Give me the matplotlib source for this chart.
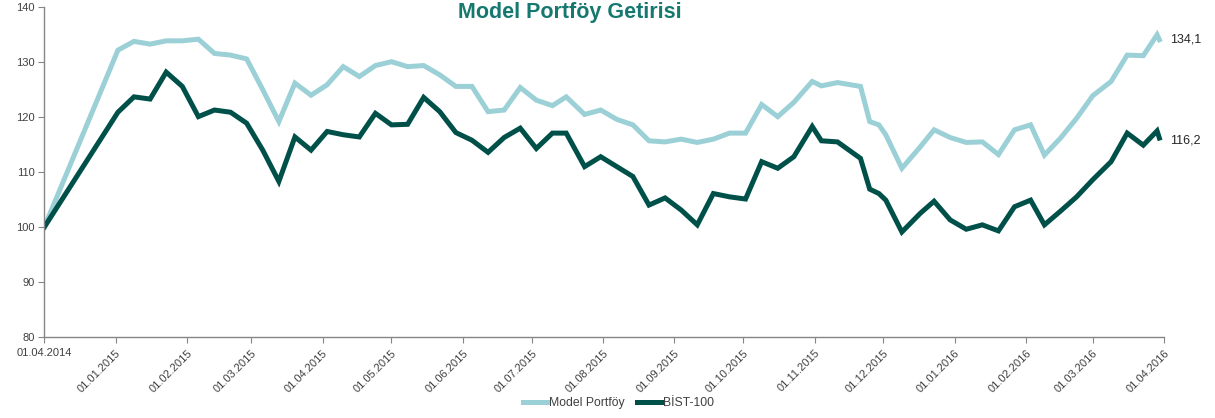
import matplotlib
matplotlib.use("Agg")
import matplotlib.pyplot as plt
from datetime import datetime

plt.rcParams['font.family'] = ['Liberation Sans', 'DejaVu Sans']

# observation dates (first point is the 01.04.2014 base, drawn at the axis start)
dates = [
    "2014-12-01", "2015-01-02", "2015-01-09", "2015-01-16", "2015-01-23", "2015-01-30",
    "2015-02-06", "2015-02-13", "2015-02-20", "2015-02-27",
    "2015-03-06", "2015-03-13", "2015-03-20", "2015-03-27",
    "2015-04-03", "2015-04-10", "2015-04-17", "2015-04-24",
    "2015-05-01", "2015-05-08", "2015-05-15", "2015-05-22", "2015-05-29",
    "2015-06-05", "2015-06-12", "2015-06-19", "2015-06-26",
    "2015-07-03", "2015-07-10", "2015-07-16", "2015-07-24", "2015-07-31",
    "2015-08-07", "2015-08-14", "2015-08-21", "2015-08-28",
    "2015-09-04", "2015-09-11", "2015-09-18", "2015-09-25",
    "2015-10-02", "2015-10-09", "2015-10-16", "2015-10-23", "2015-10-31",
    "2015-11-04", "2015-11-11", "2015-11-21", "2015-11-25", "2015-11-29",
    "2015-12-02", "2015-12-09", "2015-12-17", "2015-12-23", "2015-12-30",
    "2016-01-06", "2016-01-13", "2016-01-20", "2016-01-27",
    "2016-02-03", "2016-02-09", "2016-02-16", "2016-02-23",
    "2016-03-01", "2016-03-09", "2016-03-16", "2016-03-23", "2016-03-29", "2016-03-30",
]

model = [100, 132.2, 133.8, 133.3, 133.9, 133.9, 134.2,
         131.6, 131.3, 130.6, 125.0, 119.2, 126.2, 124.0, 125.9, 129.2, 127.4,
         129.4, 130.1, 129.2, 129.4, 127.7, 125.6, 125.6, 121.0, 121.3, 125.4,
         123.1, 122.1, 123.7, 120.5, 121.3, 119.6, 118.6, 115.7, 115.5, 116.0,
         115.4, 116.0, 117.1, 117.1, 122.3, 120.1, 122.7, 126.5, 125.7, 126.3,
         125.6, 119.2, 118.6, 116.8, 110.7, 114.6, 117.7, 116.3, 115.4, 115.5, 113.2,
         117.7, 118.6, 113.1, 116.2, 119.8, 123.9, 126.5, 131.3, 131.2, 135.0, 134.1]

bist = [100, 120.9, 123.7, 123.3, 128.2, 125.6, 120.1,
        121.3, 120.9, 118.9, 114.0, 108.3, 116.4, 114.0, 117.4, 116.8, 116.4,
        120.7, 118.6, 118.7, 123.6, 121.0, 117.2, 115.8, 113.6, 116.3, 118.0,
        114.3, 117.1, 117.1, 111.0, 112.8, 111.0, 109.2, 104.0, 105.3, 103.1,
        100.4, 106.1, 105.5, 105.1, 111.9, 110.7, 112.8, 118.3, 115.7, 115.5,
        112.5, 106.9, 106.1, 104.9, 99.1, 102.5, 104.7, 101.3, 99.6, 100.4, 99.3,
        103.7, 104.9, 100.4, 102.9, 105.5, 108.6, 111.9, 117.1, 114.9, 117.5, 116.2]

tick_dates = ["2014-12-01", "2015-01-01", "2015-02-01", "2015-03-01", "2015-04-01",
              "2015-05-01", "2015-06-01", "2015-07-01", "2015-08-01", "2015-09-01",
              "2015-10-01", "2015-11-01", "2015-12-01", "2016-01-01", "2016-02-01",
              "2016-03-01", "2016-04-01"]
tick_labels = ["01.04.2014", "01.01.2015", "01.02.2015", "01.03.2015", "01.04.2015",
               "01.05.2015", "01.06.2015", "01.07.2015", "01.08.2015", "01.09.2015",
               "01.10.2015", "01.11.2015", "01.12.2015", "01.01.2016", "01.02.2016",
               "01.03.2016", "01.04.2016"]

x = [datetime.strptime(d, "%Y-%m-%d") for d in dates]
xt = [datetime.strptime(d, "%Y-%m-%d") for d in tick_dates]

light = "#9BD0D6"
dark = "#00504A"
gray = "#868686"
txt = "#404040"

fig = plt.figure(figsize=(12.15, 4.18), dpi=100)
ax = fig.add_axes([0.0365, 0.194, 0.9215, 0.7885])

ax.plot(x, model, color=light, lw=3.6, solid_joinstyle='miter', label="Model Portföy")
ax.plot(x, bist, color=dark, lw=3.6, solid_joinstyle='miter', label="BİST-100")

ax.set_xlim(xt[0], xt[-1])
ax.set_ylim(80, 140)
ax.set_yticks(range(80, 141, 10))
ax.set_xticks(xt)
ax.set_xticklabels(tick_labels)

for lab in ax.get_xticklabels()[1:]:
    lab.set_rotation(45)
    lab.set_ha('right')
    lab.set_va('top')
    lab.set_rotation_mode('anchor')
first = ax.get_xticklabels()[0]
first.set_ha('center')

ax.tick_params(axis='x', labelsize=8, colors=txt, length=4, color=gray, pad=4)
ax.tick_params(axis='y', labelsize=8, colors=txt, length=4, color=gray, pad=3)
for s in ['top', 'right']:
    ax.spines[s].set_visible(False)
for s in ['left', 'bottom']:
    ax.spines[s].set_color(gray)
    ax.spines[s].set_linewidth(1)

# end value labels
ax.annotate(f"{model[-1]:.1f}".replace('.', ','), (x[-1], model[-1]),
            xytext=(8, 0), textcoords='offset points', va='center', ha='left',
            fontsize=9, color='#262626')
ax.annotate(f"{bist[-1]:.1f}".replace('.', ','), (x[-1], bist[-1]),
            xytext=(8, -1.5), textcoords='offset points', va='center', ha='left',
            fontsize=9, color='#262626')

fig.text(570 / 1215, 1 - 12.5 / 418, "Model Portföy Getirisi", ha='center', va='center',
         fontsize=15.5, fontweight='bold', color='#16796F')

fig.legend(loc='center', bbox_to_anchor=(0.509, 0.036), ncol=2, frameon=False,
           fontsize=8.8, handlelength=2.0, handletextpad=0.1, columnspacing=1.0,
           labelcolor=txt)

fig.savefig("out.png", dpi=100)
